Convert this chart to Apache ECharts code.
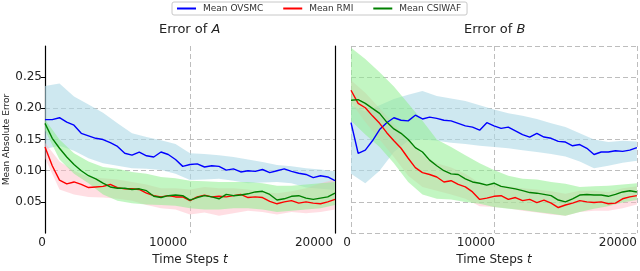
<!DOCTYPE html>
<html><head><meta charset="utf-8">
<script src="https://cdn.jsdelivr.net/npm/echarts@6/dist/echarts.min.js"></script>
<style>html,body{margin:0;padding:0;background:#fff}#c{width:640px;height:271px}</style>
</head><body><div id="c"></div>
<script>
// time steps
const steps = [0,500,1000,1500,2000,2500,3000,3500,4000,4500,5000,5500,6000,6500,7000,7500,8000,8500,9000,9500,10000,10500,11000,11500,12000,12500,13000,13500,14000,14500,15000,15500,16000,16500,17000,17500,18000,18500,19000,19500,20000];
const bandSteps = [0,1000,2000,3000,4000,5000,6000,7000,8000,9000,10000,11000,12000,13000,14000,15000,16000,17000,18000,19000,20000];
const xTicks = [0,10000,20000];
const yTicks = [0.05,0.10,0.15,0.20,0.25];

// Error of A
const aOVSMC = [.182,.182,.185,.178,.173,.160,.156,.152,.150,.145,.139,.128,.125,.130,.124,.122,.130,.126,.118,.107,.110,.111,.106,.108,.107,.101,.103,.098,.100,.099,.102,.097,.100,.103,.099,.096,.094,.089,.092,.090,.084];
const aRMI   = [.138,.108,.085,.079,.082,.078,.073,.074,.075,.078,.073,.071,.071,.070,.064,.060,.058,.060,.058,.058,.052,.058,.061,.058,.059,.058,.060,.062,.057,.058,.057,.051,.047,.050,.052,.048,.050,.048,.047,.050,.054];
const aCSIWAF= [.176,.152,.136,.122,.110,.100,.092,.087,.080,.074,.072,.072,.070,.071,.068,.059,.057,.060,.061,.060,.053,.057,.060,.058,.055,.062,.060,.061,.063,.066,.067,.062,.053,.055,.059,.060,.056,.054,.056,.058,.064];
const aOVSMCup = [.236,.240,.219,.206,.193,.176,.160,.154,.149,.143,.128,.127,.125,.122,.118,.114,.109,.107,.104,.102,.099];
const aOVSMClo = [.135,.140,.132,.120,.112,.108,.104,.103,.101,.095,.085,.086,.087,.084,.080,.081,.082,.080,.073,.071,.069];
const aRMIup = [.145,.115,.100,.090,.088,.086,.082,.078,.072,.072,.070,.074,.072,.072,.070,.066,.064,.067,.072,.080,.086];
const aRMIlo = [.120,.070,.062,.058,.057,.055,.052,.045,.040,.038,.030,.033,.028,.032,.036,.034,.030,.034,.032,.034,.038];
const aCSIup = [.182,.150,.128,.115,.106,.103,.098,.095,.090,.088,.084,.083,.082,.082,.082,.080,.076,.076,.078,.080,.082];
const aCSIlo = [.165,.118,.095,.080,.062,.052,.048,.046,.045,.044,.040,.038,.038,.040,.040,.038,.034,.036,.038,.040,.045];

// Error of B
const bOVSMC = [.177,.128,.133,.148,.166,.177,.185,.181,.180,.189,.183,.186,.184,.181,.180,.176,.172,.170,.165,.177,.172,.168,.170,.164,.158,.154,.160,.154,.152,.147,.146,.140,.142,.136,.126,.130,.130,.132,.131,.133,.137];
const bRMI   = [.229,.208,.201,.188,.176,.161,.148,.136,.120,.105,.097,.094,.090,.082,.084,.078,.074,.066,.054,.056,.059,.060,.054,.057,.052,.054,.049,.053,.048,.041,.045,.048,.052,.050,.049,.050,.047,.048,.055,.058,.060];
const bCSIWAF= [.213,.214,.208,.200,.192,.178,.167,.160,.150,.137,.130,.117,.108,.100,.095,.094,.087,.082,.080,.077,.080,.075,.073,.071,.068,.065,.064,.062,.060,.053,.050,.055,.061,.062,.061,.061,.059,.062,.066,.068,.066];
const bOVSMCup = [.205,.195,.205,.215,.222,.228,.220,.216,.212,.205,.198,.192,.188,.183,.176,.170,.160,.150,.146,.148,.147];
const bOVSMClo = [.095,.080,.100,.130,.148,.150,.148,.145,.143,.140,.138,.136,.133,.130,.127,.123,.115,.104,.108,.113,.116];
const bRMIup = [.245,.225,.200,.175,.150,.125,.112,.105,.095,.080,.078,.075,.072,.070,.067,.063,.068,.068,.066,.072,.075];
const bRMIlo = [.210,.178,.150,.122,.092,.074,.068,.062,.055,.043,.042,.040,.036,.033,.030,.028,.034,.036,.036,.040,.046];
const bCSIup = [.297,.279,.258,.235,.208,.180,.150,.138,.125,.112,.101,.092,.087,.086,.082,.079,.074,.075,.076,.078,.080];
const bCSIlo = [.180,.158,.138,.112,.082,.062,.055,.054,.050,.047,.042,.039,.037,.034,.031,.028,.034,.039,.043,.049,.053];

const FONT = 'DejaVu Sans';
const TXT = '#222';
const C_BLUE = '#0000ff', C_RED = '#ff0000', C_GREEN = '#008000';
const F_BLUE = 'rgba(173,216,230,0.6)', F_RED = 'rgba(255,182,193,0.45)', F_GREEN = 'rgba(144,238,144,0.55)';

function pairs(xs, ys){ return xs.map((x,i)=>[x, ys[i]]); }

function band(name, up, lo, fill, idx){
  return {
    type:'custom', name:name, xAxisIndex: idx, yAxisIndex: idx*2, silent:true, z:1, clip:true,
    data:[[0,0]],
    renderItem:function(params, api){
      const top = bandSteps.map((x,i)=>api.coord([x, up[i]]));
      const bot = bandSteps.map((x,i)=>api.coord([x, lo[i]])).reverse();
      return {type:'polygon', shape:{points: top.concat(bot)}, style:{fill: fill, stroke:'none'}};
    }
  };
}
function line(name, ys, color, idx){
  return {type:'line', name:name, xAxisIndex: idx, yAxisIndex: idx*2, data: pairs(steps, ys),
    showSymbol:false, symbol:'none', z:3, lineStyle:{color:color, width:1.4}, itemStyle:{color:color}, animation:false};
}

const dashed = {color:'#bdbdbd', type:[5,3], width:1};

function xLabelFmt(shifts){
  return {
    fontFamily: FONT, fontSize: 12, color: TXT, margin: 4,
    formatter: function(v){ return v===0 ? '{a|0}' : (v===10000 ? '{b|10000}' : '{c|20000}'); },
    rich: {
      a:{fontFamily:FONT,fontSize:12,color:TXT,padding:[0,shifts[0],0,0]},
      b:{fontFamily:FONT,fontSize:12,color:TXT,padding:[0,shifts[1],0,0]},
      c:{fontFamily:FONT,fontSize:12,color:TXT,padding:[0,shifts[2],0,0]}
    }
  };
}
function xAxis(idx, showMin, shifts){
  return {
    type:'value', gridIndex: idx, min:0, max:20000, interval:10000,
    name:'Time Steps {i|t}', nameLocation:'middle', nameGap:17,
    nameTextStyle:{fontFamily:FONT, fontSize:12, color:TXT, rich:{i:{fontFamily:FONT,fontSize:12,fontStyle:'italic',color:TXT}}},
    axisLine:{show:false}, axisTick:{show:false},
    axisLabel: xLabelFmt(shifts),
    splitLine:{show:true, lineStyle:dashed, showMinLine: showMin, showMaxLine: showMin}
  };
}

const option = {
  animation:false,
  backgroundColor:'#fff',
  title:[
    {text:'Error of {i|A}', left:159, top:23, padding:0,
     textStyle:{fontFamily:FONT, fontSize:13, fontWeight:'normal', color:TXT, rich:{i:{fontFamily:FONT,fontSize:13,fontStyle:'italic',color:TXT}}}},
    {text:'Error of {i|B}', left:464, top:23, padding:0,
     textStyle:{fontFamily:FONT, fontSize:13, fontWeight:'normal', color:TXT, rich:{i:{fontFamily:FONT,fontSize:13,fontStyle:'italic',color:TXT}}}}
  ],
  legend:{
    data:['Mean OVSMC','Mean RMI','Mean CSIWAF'],
    left:172, top:2, orient:'horizontal',
    icon:'rect', itemWidth:19, itemHeight:2, itemGap:20,
    padding:[2,6,2,5], borderColor:'#c8c8c8', borderWidth:1, borderRadius:2,
    textStyle:{fontFamily:FONT, fontSize:9, color:'#333', padding:[0,0,0,2]}
  },
  grid:[
    {left:45, top:46, width:290, height:192},
    {left:351, top:46, width:289, height:192}
  ],
  xAxis:[ xAxis(0, false, [6,44,42]), xAxis(1, true, [8,36,38]) ],
  yAxis:[
    {type:'value', gridIndex:0, min:0, max:0.3, interval:0.05, position:'left',
     name:'Mean Absolute Error', nameLocation:'middle', nameGap:33,
     nameTextStyle:{fontFamily:FONT, fontSize:9, color:TXT},
     axisLine:{show:true, lineStyle:{color:'#000', width:1.2}},
     axisTick:{show:true, length:4, lineStyle:{color:'#000'}, customValues: yTicks},
     axisLabel:{fontFamily:FONT, fontSize:12, color:TXT, margin:3, customValues: yTicks,
       formatter:function(v){ return (v<=0||v>=0.3)?'':v.toFixed(2); }},
     splitLine:{show:true, lineStyle:dashed, showMinLine:false, showMaxLine:false}},
    {type:'value', gridIndex:0, min:0, max:0.3, interval:0.05, position:'right',
     axisLine:{show:true, lineStyle:{color:'#000', width:1.2}},
     axisTick:{show:false}, axisLabel:{show:false}, splitLine:{show:false}},
    {type:'value', gridIndex:1, min:0, max:0.3, interval:0.05,
     axisLine:{show:false}, axisTick:{show:false}, axisLabel:{show:false},
     splitLine:{show:true, lineStyle:dashed, showMinLine:true, showMaxLine:true}}
  ],
  series:[
    band('bandA1', aOVSMCup, aOVSMClo, F_BLUE, 0),
    band('bandA2', aRMIup, aRMIlo, F_RED, 0),
    band('bandA3', aCSIup, aCSIlo, F_GREEN, 0),
    line('Mean OVSMC', aOVSMC, C_BLUE, 0),
    line('Mean RMI', aRMI, C_RED, 0),
    line('Mean CSIWAF', aCSIWAF, C_GREEN, 0),
    band('bandB1', bOVSMCup, bOVSMClo, F_BLUE, 1),
    band('bandB2', bRMIup, bRMIlo, F_RED, 1),
    band('bandB3', bCSIup, bCSIlo, F_GREEN, 1),
    line('Mean OVSMC', bOVSMC, C_BLUE, 1),
    line('Mean RMI', bRMI, C_RED, 1),
    line('Mean CSIWAF', bCSIWAF, C_GREEN, 1)
  ]
};
const chart = echarts.init(document.getElementById('c'), null, {renderer:'canvas'});
chart.setOption(option);
</script></body></html>
